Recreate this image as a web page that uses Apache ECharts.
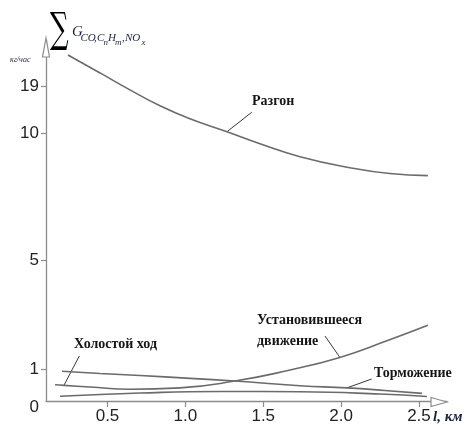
<!DOCTYPE html>
<html><head><meta charset="utf-8">
<script src="https://cdn.jsdelivr.net/npm/echarts@6/dist/echarts.min.js"></script>
<style>html,body{margin:0;padding:0;background:#fff}#c{width:465px;height:425px}</style>
</head><body><div id="c"></div>
<script>
// ---------- DATA (distance, km ; emissions, kg/h) ----------
const distanceAcceleration = [0.246,0.452,0.644,0.837,1.029,1.267,1.479,1.736,2.056,2.313,2.557];
const emissionAcceleration = [24.9,21.47,18.24,15.19,12.72,10.25,9.58,9.07,8.64,8.41,8.33];
const distanceSteady = [0.163,0.22,0.388,0.644,0.965,1.318,1.652,1.992,2.294,2.557];
const emissionSteady = [0.51,0.49,0.44,0.366,0.41,0.625,0.95,1.43,2.04,2.61];
const distanceBraking = [0.208,0.452,0.709,1.030,1.318,1.736,2.037,2.281,2.519];
const emissionBraking = [0.93,0.86,0.80,0.71,0.625,0.48,0.41,0.33,0.24];
const distanceIdle = [0.195,0.709,1.222,1.736,2.249,2.551];
const emissionIdle = [0.147,0.25,0.30,0.29,0.22,0.14];
const xTickValues = [0.5,1.0,1.5,2.0,2.5];
const yTickValues = [0,1,5,10,19];
const seriesNames = ['Разгон','Установившееся движение','Торможение','Холостой ход'];

// ---------- non-uniform vertical scale of the original figure ----------
const Y_SCALE_BREAKS = [0, 32, 141, 268.7, 316];   // axis units for yTickValues
function mapY(v){
  const t = yTickValues, b = Y_SCALE_BREAKS;
  let i = 0;
  while (i < t.length - 2 && v > t[i+1]) i++;
  return b[i] + (v - t[i]) * (b[i+1] - b[i]) / (t[i+1] - t[i]);
}
const X_MIN = 0.105, X_MAX = 2.68;
const CURVE = '#6b6b6b';
const TXT = '#151515';
const NAVY = '#1d2540';

const chart = echarts.init(document.getElementById('c'), null, {renderer:'canvas'});
const pairs = (xs, ys) => xs.map((x,i)=>[x, mapY(ys[i])]);
const lineSeries = (name, xs, ys) => ({
  name, type:'line', smooth:0.5, symbol:'none', silent:true,
  lineStyle:{color:CURVE, width:1.6}, data: pairs(xs, ys)
});
const yLabelMapped = yTickValues.map(mapY);
const tickFont = '"Liberation Sans Narrow","Liberation Sans",Arial';

chart.setOption({
  animation:false,
  backgroundColor:'#fff',
  grid:{left:46, right:18, top:40, bottom:23, containLabel:false},
  xAxis:{
    type:'value', min:X_MIN, max:X_MAX,
    axisLine:{show:true, lineStyle:{color:'#8c8c8c', width:1.3}},
    axisTick:{show:true, length:6, lineStyle:{color:'#8c8c8c', width:1.2}, customValues:xTickValues},
    axisLabel:{customValues:xTickValues, margin:7, color:'#222', fontFamily:tickFont, fontSize:17,
      formatter:v=>Number(v).toFixed(1)},
    splitLine:{show:false}
  },
  yAxis:{
    type:'value', min:0, max:362,
    axisLine:{show:true, lineStyle:{color:'#8c8c8c', width:1.3}},
    axisTick:{show:true, length:5, lineStyle:{color:'#8c8c8c', width:1.2}, customValues:yTickValues.slice(1).map(mapY)},
    axisLabel:{customValues:yLabelMapped, margin:7, color:'#222', fontFamily:tickFont, fontSize:17,
      formatter:v=>{
        let best=0; yLabelMapped.forEach((m,i)=>{ if (Math.abs(m-v)<Math.abs(yLabelMapped[best]-v)) best=i; });
        return best===0 ? '{z|0}' : String(yTickValues[best]);
      },
      rich:{z:{padding:[12,0,0,0], fontSize:17, color:'#222', fontFamily:tickFont}}
    },
    splitLine:{show:false}
  },
  series:[
    lineSeries(seriesNames[0], distanceAcceleration, emissionAcceleration),
    lineSeries(seriesNames[1], distanceSteady, emissionSteady),
    lineSeries(seriesNames[2], distanceBraking, emissionBraking),
    lineSeries(seriesNames[3], distanceIdle, emissionIdle)
  ]
});

// ---------- annotations ----------
const px = (x, yv) => chart.convertToPixel({gridIndex:0}, [x, mapY(yv)]);
const labelFont = 'bold 14px "Liberation Serif","Times New Roman",serif';
const anchors = [
  {text:'Разгон', x:252, y:101, from:[251.7,112.3], to:px(distanceAcceleration[5], emissionAcceleration[5])},
  {text:'Холостой ход', x:74, y:344, from:[79.3,356], to:px(distanceSteady[1], emissionSteady[1])},
  {text:'Установившееся', x:257, y:320, from:[325,336], to:px(distanceSteady[7], emissionSteady[7])},
  {text:'движение', x:257, y:341},
  {text:'Торможение', x:374, y:373, from:[371.7,379], to:px(distanceBraking[6], emissionBraking[6])}
];
const g = [];
anchors.forEach(a=>{
  g.push({type:'text', x:a.x, y:a.y, silent:true, scaleY:1.1,
    style:{text:a.text, font:labelFont, fill:TXT, textVerticalAlign:'middle', textAlign:'left'}});
  if (a.from) g.push({type:'line', silent:true,
    shape:{x1:a.from[0], y1:a.from[1], x2:a.to[0], y2:a.to[1]}, style:{stroke:'#222', lineWidth:0.9}});
});
// axis arrowheads (open)
g.push({type:'polygon', silent:true, z:10, shape:{points:[[46,38],[42.5,57],[49.5,57]]}, style:{fill:'#fff', stroke:'#8c8c8c', lineWidth:1.2}});
g.push({type:'polygon', silent:true, z:10, shape:{points:[[447,402],[431,397.5],[431,406.5]]}, style:{fill:'#fff', stroke:'#8c8c8c', lineWidth:1.2}});
// axis titles
g.push({type:'text', x:433, y:417, silent:true, style:{text:'l, км', font:'italic bold 15px "Liberation Serif",serif', fill:NAVY, textVerticalAlign:'middle'}});
g.push({type:'text', x:10, y:60, silent:true, style:{text:'кг/час', font:'italic 8px "Liberation Serif",serif', fill:NAVY, textVerticalAlign:'middle'}});
g.push({type:'text', x:50, y:31, silent:true, scaleX:0.62, style:{text:'∑', font:'42px "DejaVu Serif",serif', fill:'#000', textVerticalAlign:'middle'}});
const sub = [
  ['G', 72, 32.5, 'italic 15px'],
  ['CO', 80.5, 38, 'italic 11px'],
  [',', 94, 38, 'italic 11px'],
  ['C', 97, 38, 'italic 11px'],
  ['n', 103.5, 42.5, 'italic 9px'],
  ['H', 108, 38, 'italic 11px'],
  ['m', 115, 42.5, 'italic 9px'],
  [',', 122, 38, 'italic 11px'],
  ['NO', 125, 38, 'italic 11px'],
  ['x', 141.5, 42.5, 'italic 9px']
];
sub.forEach(s=>g.push({type:'text', x:s[1], y:s[2], silent:true,
  style:{text:s[0], font:s[3]+' "Liberation Serif",serif', fill:NAVY, textVerticalAlign:'middle'}}));
chart.setOption({graphic:g});
</script></body></html>
